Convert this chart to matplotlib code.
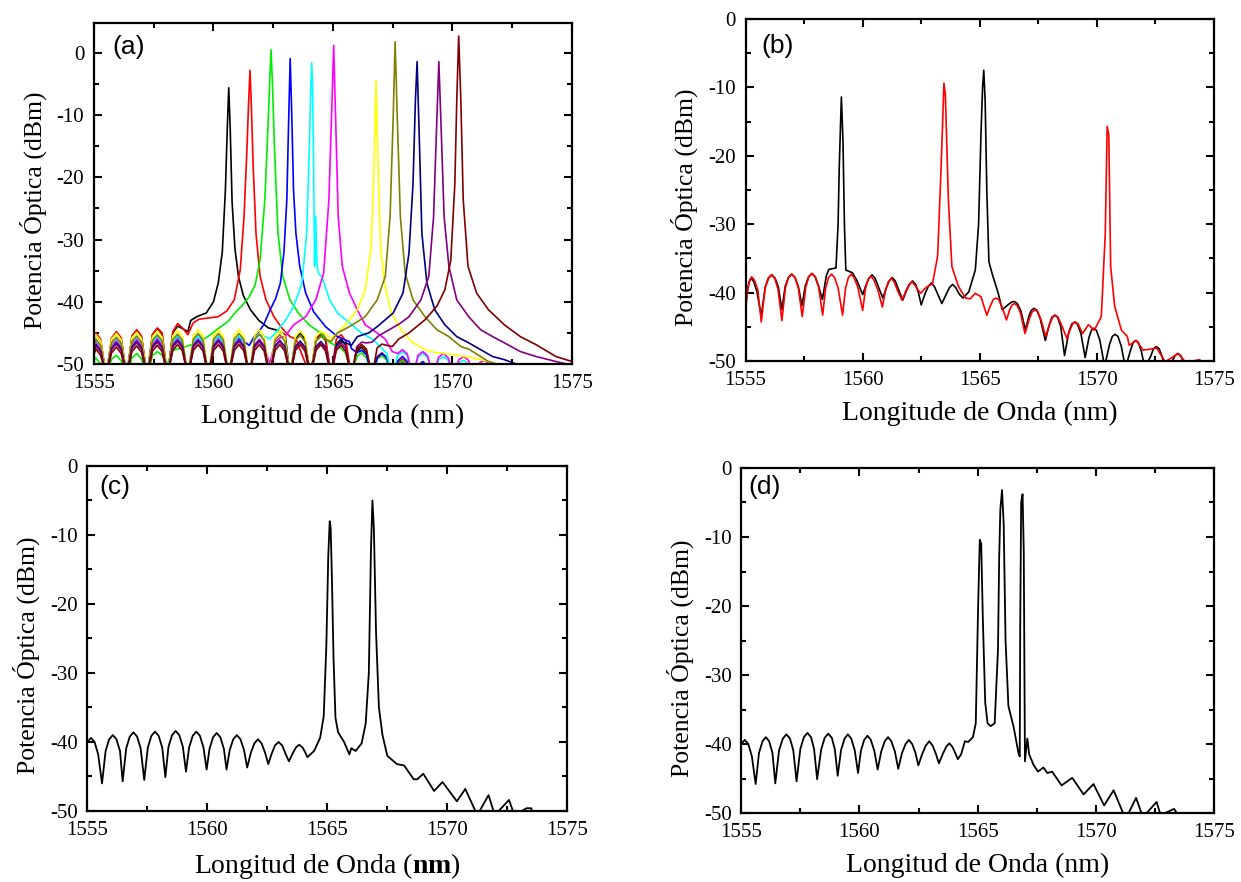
import matplotlib
matplotlib.use('Agg')
import matplotlib.pyplot as plt
from matplotlib.ticker import MultipleLocator

plt.rcParams['font.family'] = 'Liberation Serif'
plt.rcParams['axes.unicode_minus'] = False
plt.rcParams['mathtext.fontset'] = 'custom'
plt.rcParams['mathtext.bf'] = 'Liberation Serif:bold'

# ---------------- panel (a): 11 espectros (colores de Origin) ----------------
# rejilla de longitudes de onda del rizado (valle, hombro, pico, hombro ...)
a_grid = [1555.0, 1555.08, 1555.28, 1555.51, 1555.74, 1555.94, 1556.14, 1556.37,
          1556.59, 1556.79, 1556.99, 1557.22, 1557.45, 1557.65, 1557.85, 1558.08,
          1558.3, 1558.5, 1558.7, 1558.93, 1559.16, 1559.36, 1559.56, 1559.79,
          1560.01, 1560.21, 1560.41, 1560.64, 1560.87, 1561.07, 1561.27, 1561.5,
          1561.72, 1561.92, 1562.12, 1562.35, 1562.58, 1562.78, 1562.98, 1563.21,
          1563.43, 1563.63, 1563.83, 1564.06, 1564.29, 1564.49, 1564.69, 1564.92,
          1565.14, 1565.34, 1565.54, 1565.77, 1566.0, 1566.2, 1566.4, 1566.63,
          1566.85, 1567.05, 1567.25, 1567.48, 1567.71, 1567.91, 1568.11, 1568.34,
          1568.56, 1568.76, 1568.96, 1569.19, 1569.42, 1569.62, 1569.82, 1570.05,
          1570.27, 1570.47, 1570.67, 1570.9, 1571.13, 1571.33, 1571.53, 1571.76,
          1571.98, 1572.18, 1572.38, 1572.61]

a_colors = ['#000000', '#ff0000', '#00ee00', '#0000ff', '#00ffff', '#ff00ff',
            '#ffff00', '#808000', '#000080', '#800080', '#800000']

black_left = [-46.0, -45.3, -46.3, -52, -46.0, -45.0, -46.0, -52, -45.6, -44.6, -45.6, -52,
              -45.3, -44.3, -45.2, -52, -45.0, -43.9, -44.3, -44.8]
black_wx = [1559.05, 1559.3, 1559.7, 1560.0, 1560.2, 1560.37, 1560.5, 1560.58, 1560.64, 1560.7,
            1560.78, 1560.9, 1561.05, 1561.25, 1561.55, 1561.9, 1562.3, 1562.7, 1563.0]
black_wy = [-43.0, -42.4, -41.8, -40.0, -37.0, -32.0, -22.0, -12.0, -5.6, -12.0,
            -24.0, -31.5, -36.0, -39.0, -41.3, -43.0, -44.2, -44.6, -45.3]
black_tail = [-52, -46.0, -45.0, -46.0, -52, -46.0, -45.2, -46.2, -52, -46.8, -46.0, -47.0,
              -52, -48.0, -47.3, -48.2, -52, -49.2, -48.5, -49.3, -52, -50.5, -49.8, -50.5, -52]

red_left = [-46.2, -45.0, -46.0, -52, -45.8, -44.8, -45.8, -52, -45.5, -44.5, -45.5, -52,
            -45.2, -44.2, -45.0, -52, -44.8, -43.5, -44.2, -45.3]
red_wx = [1559.15, 1559.4, 1559.8, 1560.2, 1560.55, 1560.87, 1561.12, 1561.28, 1561.4, 1561.47,
          1561.53, 1561.59, 1561.66, 1561.78, 1561.95, 1562.2, 1562.53, 1562.86, 1563.2, 1563.45]
red_wy = [-43.4, -42.8, -42.6, -42.4, -41.5, -39.7, -34.9, -26.3, -15.6, -8.0,
          -2.8, -9.0, -18.0, -29.0, -35.9, -39.7, -42.4, -44.2, -45.6, -46.0]
red_tail = [-52, -45.8, -44.9, -45.8, -52, -46.0, -45.3, -46.3, -52, -47.6, -46.9, -47.8,
            -52, -48.8, -48.2, -49.0, -52, -49.8, -49.2, -50.0, -52]

green_left = [-49.5, -49.0, -50.0, -52, -49.2, -48.6, -49.5, -52, -49.0, -48.3, -49.2, -52,
              -48.6, -48.0, -48.6, -50.0]
green_wx = [1558.3, 1558.6, 1559.0, 1559.4, 1559.8, 1560.2, 1560.6, 1560.9, 1561.2, 1561.5,
            1561.75, 1561.95, 1562.15, 1562.28, 1562.36, 1562.41, 1562.47, 1562.55, 1562.7,
            1562.9, 1563.2, 1563.55, 1564.0, 1564.4, 1564.85]
green_wy = [-47.8, -47.5, -47.0, -46.5, -45.5, -44.3, -43.2, -41.8, -40.6, -39.2,
            -37.2, -33.3, -23.6, -12.0, -4.0, 0.5, -5.0, -15.0, -29.0,
            -35.9, -39.7, -41.8, -43.7, -44.8, -46.5]
green_tail = [-47.5, -48.3, -52, -48.8, -48.2, -49.0, -52, -49.2, -48.6, -49.4, -52,
              -50.0, -49.5, -50.2, -52]

blue_left = [-47.5, -46.6, -47.6, -52, -47.2, -46.3, -47.3, -52, -47.0, -46.0, -47.0, -52,
             -46.8, -45.8, -46.8, -52, -46.6, -45.6, -46.6, -52, -46.5, -45.5, -46.5, -52,
             -46.5, -45.6, -46.5, -52, -46.6, -45.8, -46.4, -47.0]
blue_wx = [1561.7, 1561.9, 1562.1, 1562.37, 1562.6, 1562.8, 1562.95, 1563.07, 1563.15, 1563.21,
           1563.27, 1563.35, 1563.45, 1563.61, 1563.86, 1564.19, 1564.69, 1565.19, 1565.69]
blue_wy = [-45.6, -44.8, -43.7, -41.3, -39.5, -37.0, -32.0, -23.6, -10.3, -0.9,
           -9.0, -22.0, -29.0, -34.3, -38.6, -41.6, -44.0, -45.6, -46.4]
blue_tail = [-47.5, -48.2, -47.8, -48.5, -52, -49.0, -48.3, -49.0, -52, -49.5, -48.8, -49.6,
             -52, -50.2, -49.6, -50.3, -52]

cyan_left = [-47.0, -46.3, -47.3, -52, -47.0, -46.0, -47.0, -52, -46.8, -45.8, -46.8, -52,
             -46.6, -45.6, -46.6, -52, -46.5, -45.5, -46.5, -52, -46.5, -45.5, -46.5, -52,
             -46.5, -45.5, -46.5, -52, -46.5, -45.5, -46.5, -52, -46.2, -45.3, -45.5, -46.0]
cyan_wx = [1562.7, 1563.03, 1563.36, 1563.7, 1563.9, 1564.01, 1564.07, 1564.11, 1564.15, 1564.19,
           1564.23, 1564.28, 1564.33, 1564.4, 1564.53, 1564.86, 1565.19, 1565.69, 1566.19, 1566.69]
cyan_wy = [-44.5, -42.9, -40.7, -37.0, -29.0, -15.6, -6.0, -1.6, -6.0, -18.0,
           -34.3, -26.3, -34.0, -35.5, -35.9, -39.7, -41.8, -43.4, -45.0, -46.1]
cyan_tail = [-47.5, -48.3, -52, -48.6, -48.0, -48.7, -52, -48.9, -48.3, -49.0, -52,
             -49.3, -48.8, -49.4, -52, -49.8, -49.4, -50.0, -52]

magenta_left = [-47.3, -46.6, -47.6, -52, -47.2, -46.3, -47.3, -52, -47.0, -46.1, -47.1, -52,
                -46.9, -46.0, -47.0, -52, -46.9, -46.0, -47.0, -52, -46.9, -46.0, -47.0, -52,
                -46.9, -46.0, -47.0, -52, -46.9, -46.0, -47.0, -52, -46.9, -46.0, -47.0, -50.0]
magenta_wx = [1562.58, 1562.78, 1563.0, 1563.36, 1563.86, 1564.28, 1564.61, 1564.83, 1564.94,
              1565.03, 1565.11, 1565.22, 1565.39, 1565.69, 1566.02, 1566.35, 1566.85, 1567.19]
magenta_wy = [-46.5, -45.8, -45.5, -43.7, -42.4, -39.7, -35.4, -23.6, -10.3,
              1.2, -10.3, -26.3, -34.3, -38.6, -41.3, -43.7, -45.0, -46.0]
magenta_tail = [-48.0, -48.3, -47.7, -48.4, -52, -48.6, -48.0, -48.7, -52, -48.9, -48.3, -49.0,
                -52, -49.3, -48.8, -49.4, -52, -49.8, -49.4, -50.0, -52]

yellow_left = [-46.3, -45.3, -46.3, -52, -46.0, -45.1, -46.1, -52, -45.8, -44.9, -45.9, -52,
               -45.6, -44.7, -45.7, -52, -45.5, -44.6, -45.6, -52, -45.4, -44.5, -45.5, -52,
               -45.4, -44.5, -45.5, -52, -45.4, -44.5, -45.5, -52, -45.4, -44.5, -45.5, -52,
               -45.5, -44.6, -45.6, -52, -45.6, -44.7, -45.6, -52, -45.6, -44.8, -45.2, -46.0]
yellow_wx = [1565.2, 1565.52, 1566.02, 1566.35, 1566.6, 1566.72, 1566.8, 1566.89, 1566.99, 1567.15,
             1567.44, 1567.85, 1568.35, 1568.85, 1569.35, 1569.85, 1570.35, 1570.85, 1571.3,
             1571.9, 1572.4]
yellow_wy = [-45.0, -43.7, -41.3, -38.1, -31.1, -18.3, -4.4, -18.3, -31.1, -37.0,
             -41.8, -44.5, -46.6, -47.7, -48.2, -48.4, -48.7, -49.0, -49.4, -50.0, -50.6]

olive_left = [-47.0, -46.0, -47.0, -52, -46.6, -45.7, -46.7, -52, -46.4, -45.5, -46.5, -52,
              -46.2, -45.3, -46.3, -52, -46.1, -45.2, -46.2, -52, -46.0, -45.1, -46.1, -52,
              -46.0, -45.1, -46.1, -52, -46.0, -45.1, -46.1, -52, -46.0, -45.2, -46.2, -52,
              -46.1, -45.3, -46.3, -52, -46.2, -45.4, -46.4, -52, -46.3, -45.6, -46.0, -46.4]
olive_wx = [1565.19, 1565.69, 1566.35, 1566.85, 1567.19, 1567.39, 1567.52, 1567.6, 1567.69, 1567.82,
            1568.02, 1568.35, 1568.85, 1569.35, 1569.85, 1570.35, 1570.68, 1571.01, 1571.51,
            1572.0, 1572.4]
olive_wy = [-45.0, -44.0, -42.4, -39.7, -35.9, -26.3, -10.3, 1.8, -10.3, -26.3,
            -35.4, -39.7, -42.4, -44.5, -45.6, -47.2, -47.6, -48.4, -49.6, -50.2, -50.8]

navy_left = [-47.8, -46.9, -47.9, -52, -47.5, -46.6, -47.6, -52, -47.3, -46.4, -47.4, -52,
             -47.2, -46.3, -47.3, -52, -47.1, -46.2, -47.2, -52, -47.1, -46.2, -47.2, -52,
             -47.1, -46.2, -47.2, -52, -47.1, -46.2, -47.2, -52, -47.1, -46.2, -47.2, -52,
             -47.1, -46.2, -47.2, -52, -47.2, -46.3, -47.3, -52, -47.2, -46.4, -47.3, -52,
             -47.0, -46.4, -46.6, -47.0]
navy_wx = [1566.02, 1566.5, 1566.85, 1567.52, 1567.93, 1568.18, 1568.35, 1568.45, 1568.52, 1568.6,
           1568.72, 1568.93, 1569.26, 1569.68, 1570.18, 1570.68, 1571.18, 1571.68, 1572.17,
           1572.67, 1573.0]
navy_wy = [-45.6, -45.0, -44.0, -41.8, -38.6, -32.2, -21.0, -7.6, -1.4, -12.0,
           -29.0, -37.0, -41.3, -43.7, -45.6, -46.6, -47.7, -48.8, -49.3, -50.0, -50.6]

purple_left = [-48.0, -47.1, -48.1, -52, -47.7, -46.8, -47.8, -52, -47.5, -46.6, -47.6, -52,
               -47.4, -46.5, -47.5, -52, -47.3, -46.4, -47.4, -52, -47.3, -46.4, -47.4, -52,
               -47.3, -46.4, -47.4, -52, -47.3, -46.4, -47.4, -52, -47.3, -46.4, -47.4, -52,
               -47.3, -46.4, -47.4, -52, -47.4, -46.5, -47.5, -52, -47.4, -46.6, -47.5, -52,
               -47.4, -46.6, -47.5, -52, -47.2, -46.5, -46.6, -46.5]
purple_wx = [1566.9, 1567.35, 1567.8, 1568.18, 1568.68, 1569.01, 1569.21, 1569.35, 1569.43, 1569.51,
             1569.65, 1569.85, 1570.18, 1570.68, 1571.18, 1571.68, 1572.17, 1572.84, 1573.5,
             1574.33, 1575.0]
purple_wy = [-45.5, -44.5, -43.5, -42.4, -39.7, -35.9, -26.3, -10.3, -1.4, -10.3,
             -26.3, -34.3, -39.7, -42.4, -44.5, -45.6, -46.6, -48.0, -48.8, -49.6, -50.2]

maroon_left = [-48.5, -47.6, -48.6, -52, -48.2, -47.3, -48.3, -52, -48.0, -47.1, -48.1, -52,
               -47.9, -47.0, -48.0, -52, -47.8, -46.9, -47.9, -52, -47.8, -46.9, -47.9, -52,
               -47.8, -46.9, -47.9, -52, -47.8, -46.9, -47.9, -52, -47.8, -46.9, -47.9, -52,
               -47.8, -46.9, -47.9, -52, -47.8, -46.9, -47.9, -52, -47.8, -46.9, -47.9, -52,
               -47.8, -47.0, -48.0, -52, -47.6, -46.9, -47.6, -52, -47.4, -46.8, -47.0, -47.2]
maroon_wx = [1567.75, 1568.18, 1568.85, 1569.35, 1569.68, 1569.93, 1570.1, 1570.18, 1570.26, 1570.35,
             1570.45, 1570.65, 1571.01, 1571.51, 1572.17, 1572.84, 1573.5, 1574.33, 1575.0]
maroon_wy = [-46.0, -45.0, -42.9, -40.7, -38.1, -33.3, -21.0, -7.6, 2.7, -7.6,
             -23.6, -34.3, -38.6, -41.3, -43.7, -45.6, -46.9, -48.8, -49.6]

# (curva izquierda, ala x, ala y, indice de inicio de la cola, cola)
a_curves = [
    (black_left, black_wx, black_wy, 39, black_tail),
    (red_left, red_wx, red_wy, 43, red_tail),
    (green_left, green_wx, green_wy, 49, green_tail),
    (blue_left, blue_wx, blue_wy, 51, blue_tail),
    (cyan_left, cyan_wx, cyan_wy, 57, cyan_tail),
    (magenta_left, magenta_wx, magenta_wy, 59, magenta_tail),
    (yellow_left, yellow_wx, yellow_wy, 0, []),
    (olive_left, olive_wx, olive_wy, 0, []),
    (navy_left, navy_wx, navy_wy, 0, []),
    (purple_left, purple_wx, purple_wy, 0, []),
    (maroon_left, maroon_wx, maroon_wy, 0, []),
]

# ---------------- panel (b) ----------------
b_black_x = [1555.0, 1555.08, 1555.15, 1555.23, 1555.35, 1555.48, 1555.67,
             1555.84, 1555.98, 1556.12, 1556.26, 1556.4, 1556.55,
             1556.69, 1556.83, 1556.97, 1557.11, 1557.25, 1557.41,
             1557.55, 1557.69, 1557.83, 1557.97, 1558.11, 1558.28,
             1558.45, 1558.56, 1558.86, 1558.95, 1559.0, 1559.09, 1559.16, 1559.22, 1559.28,
             1559.56, 1559.75, 1560.0,
             1560.14, 1560.27, 1560.4, 1560.53, 1560.68, 1560.86,
             1561.0, 1561.13, 1561.26, 1561.39, 1561.54, 1561.71,
             1561.86, 1562.0, 1562.13, 1562.26, 1562.38, 1562.5,
             1562.66, 1562.8, 1562.93, 1563.06, 1563.2, 1563.38,
             1563.56, 1563.7, 1563.84, 1563.98, 1564.12, 1564.28,
             1564.53, 1564.81, 1564.95, 1565.05, 1565.12, 1565.17, 1565.23, 1565.3, 1565.39,
             1565.55, 1565.78, 1565.96, 1566.2, 1566.35, 1566.47, 1566.6, 1566.75, 1566.95,
             1567.1, 1567.2, 1567.32, 1567.44, 1567.58, 1567.8,
             1567.96, 1568.08, 1568.2, 1568.32, 1568.46, 1568.62,
             1568.8, 1568.93, 1569.05, 1569.17, 1569.32, 1569.5,
             1569.66, 1569.77, 1569.87, 1569.98, 1570.13, 1570.33,
             1570.54, 1570.66, 1570.78, 1570.9, 1571.04, 1571.22,
             1571.44, 1571.55, 1571.66, 1571.77, 1571.9, 1572.05,
             1572.3, 1572.42, 1572.54, 1572.66, 1572.78, 1572.92,
             1573.22, 1573.34, 1573.46, 1573.58, 1573.68, 1573.8,
             1574.1, 1574.4, 1574.5]
b_black_y = [-41.6, -39.6, -38.4, -37.9, -38.4, -39.8, -43.4,
             -39.2, -37.9, -37.4, -37.9, -39.2, -42.5,
             -39.1, -37.8, -37.3, -37.8, -39.1, -41.9,
             -39.0, -37.7, -37.2, -37.7, -39.0, -41.0,
             -37.5, -36.6, -36.4, -30.0, -21.6, -11.4, -18.0, -30.0, -36.7,
             -37.1, -38.2, -40.3,
             -38.9, -37.9, -37.4, -37.9, -39.2, -40.8,
             -39.4, -38.3, -37.8, -38.3, -39.6, -41.1,
             -39.8, -38.8, -38.3, -38.8, -40.0, -41.8,
             -40.2, -39.1, -38.6, -39.1, -40.2, -41.6,
             -40.3, -39.3, -38.8, -39.3, -40.2, -40.8,
             -39.9, -36.7, -30.0, -17.0, -10.0, -7.5, -12.0, -25.0, -35.5,
             -37.5, -40.0, -42.5, -41.8, -41.4, -41.3, -41.6, -42.6, -45.5,
             -43.4, -42.6, -42.3, -42.6, -43.8, -47.0,
             -44.8, -43.6, -43.3, -43.6, -45.0, -49.2,
             -45.8, -44.6, -44.3, -44.6, -46.0, -49.5,
             -46.6, -45.5, -45.2, -45.5, -47.0, -50.8,
             -47.6, -46.4, -46.1, -46.4, -47.8, -51.0,
             -48.4, -47.3, -47.0, -47.3, -48.6, -51.0,
             -49.3, -48.2, -47.9, -48.2, -49.3, -51.0,
             -50.0, -49.2, -48.9, -49.2, -50.0, -51.0,
             -50.2, -49.9, -50.5]

b_red_x = [1555.0, 1555.1, 1555.18, 1555.26, 1555.38, 1555.52, 1555.67,
           1555.83, 1555.96, 1556.1, 1556.24, 1556.38, 1556.55,
           1556.7, 1556.83, 1556.97, 1557.11, 1557.25, 1557.42,
           1557.57, 1557.7, 1557.84, 1557.98, 1558.12, 1558.29,
           1558.42, 1558.54, 1558.67, 1558.8, 1558.95, 1559.14,
           1559.27, 1559.39, 1559.51, 1559.63, 1559.8, 1560.0,
           1560.12, 1560.23, 1560.35, 1560.47, 1560.64, 1560.84,
           1560.98, 1561.1, 1561.22, 1561.34, 1561.5, 1561.68,
           1561.84, 1561.97, 1562.1, 1562.23, 1562.36, 1562.48,
           1562.6, 1562.73, 1562.98, 1563.2, 1563.35, 1563.47, 1563.53, 1563.66, 1563.81,
           1564.09, 1564.39, 1564.6, 1564.8, 1565.05, 1565.3,
           1565.47, 1565.58, 1565.69, 1565.8, 1565.94, 1566.14,
           1566.28, 1566.38, 1566.48, 1566.6, 1566.74, 1566.93,
           1567.12, 1567.24, 1567.36, 1567.48, 1567.62, 1567.81,
           1568.0, 1568.11, 1568.22, 1568.34, 1568.5, 1568.72,
           1568.88, 1568.98, 1569.09, 1569.2, 1569.39,
           1569.64, 1569.89, 1570.19, 1570.36, 1570.44, 1570.51, 1570.59, 1570.76,
           1571.05, 1571.3, 1571.38, 1571.69, 1571.97, 1572.22, 1572.55, 1572.92, 1573.2,
           1573.47, 1573.8, 1574.1, 1574.39, 1574.45]
b_red_y = [-42.5, -39.4, -38.2, -37.7, -38.2, -39.6, -44.3,
           -39.4, -37.9, -37.4, -37.9, -39.4, -44.1,
           -39.3, -37.8, -37.3, -37.8, -39.3, -43.5,
           -39.2, -37.7, -37.2, -37.7, -39.2, -43.3,
           -39.3, -37.8, -37.3, -37.8, -39.3, -43.3,
           -39.3, -37.8, -37.3, -37.8, -39.3, -42.6,
           -39.4, -38.1, -37.6, -38.1, -39.5, -42.1,
           -39.6, -38.4, -37.9, -38.4, -39.8, -41.1,
           -39.8, -38.9, -38.4, -38.9, -39.6, -40.1,
           -39.6, -39.2, -38.7, -34.7, -21.6, -9.4, -11.0, -26.5, -36.2,
           -39.1, -40.8, -40.9, -40.1, -40.6, -43.3,
           -41.8, -41.0, -40.8, -41.0, -42.0, -44.0,
           -42.5, -41.8, -41.6, -41.9, -43.0, -46.0,
           -43.8, -42.8, -42.5, -42.8, -44.0, -46.4,
           -44.5, -43.6, -43.3, -43.6, -44.8, -46.7,
           -45.2, -44.5, -44.3, -44.6, -46.0,
           -44.7, -45.5, -43.5, -31.3, -15.7, -17.0, -36.2, -42.0,
           -45.5, -46.4, -47.7, -47.0, -48.4, -48.3, -48.1, -50.1, -49.5,
           -48.9, -50.2, -50.0, -49.8, -50.3]

# ---------------- panel (c) ----------------
c_x = [1555.0, 1555.15, 1555.3, 1555.45, 1555.61,
       1555.76, 1555.91, 1556.06, 1556.21, 1556.36, 1556.47,
       1556.62, 1556.77, 1556.92, 1557.07, 1557.22, 1557.37,
       1557.52, 1557.67, 1557.82, 1557.97, 1558.12, 1558.25,
       1558.38, 1558.53, 1558.68, 1558.83, 1558.98, 1559.11,
       1559.24, 1559.39, 1559.54, 1559.69, 1559.84, 1559.97,
       1560.09, 1560.24, 1560.39, 1560.54, 1560.69, 1560.8,
       1560.93, 1561.08, 1561.23, 1561.38, 1561.53, 1561.66,
       1561.81, 1561.96, 1562.11, 1562.26, 1562.41, 1562.54,
       1562.67, 1562.82, 1562.97, 1563.12, 1563.27, 1563.4,
       1563.55, 1563.69, 1563.83, 1563.97, 1564.08, 1564.17,
       1564.45, 1564.7, 1564.85, 1564.96, 1565.04,
       1565.1, 1565.14, 1565.19, 1565.26, 1565.34, 1565.45, 1565.7, 1565.92, 1566.0,
       1566.18, 1566.43, 1566.6, 1566.73, 1566.82, 1566.88, 1566.94, 1567.03, 1567.15,
       1567.3, 1567.5, 1567.9, 1568.2, 1568.6, 1568.75, 1569.0, 1569.45, 1569.8,
       1570.4, 1570.75, 1571.25, 1571.72, 1571.98, 1572.57, 1572.8, 1573.3, 1573.5, 1573.55]
c_y = [-40.0, -39.4, -40.0, -41.8, -46.0,
       -41.3, -39.6, -39.0, -39.6, -41.3, -45.7,
       -40.9, -39.2, -38.6, -39.2, -40.9, -45.5,
       -40.8, -39.1, -38.5, -39.1, -40.8, -45.1,
       -40.7, -39.0, -38.4, -39.0, -40.7, -44.3,
       -40.8, -39.1, -38.5, -39.1, -40.8, -44.0,
       -41.0, -39.3, -38.7, -39.3, -41.0, -44.0,
       -41.2, -39.6, -39.0, -39.6, -41.2, -43.7,
       -41.6, -40.2, -39.6, -40.2, -41.6, -43.2,
       -41.8, -40.5, -40.0, -40.5, -41.8, -42.8,
       -41.7, -40.8, -40.4, -40.8, -41.5, -42.2,
       -41.3, -39.4, -36.3, -26.0, -13.0,
       -8.0, -9.0, -16.0, -28.0, -36.5, -38.6, -40.0, -41.8, -40.9,
       -41.3, -40.2, -37.3, -30.0, -12.0, -5.0, -9.0, -24.0, -35.0,
       -39.0, -42.0, -43.2, -43.4, -45.4, -45.4, -44.6, -47.1, -45.8,
       -48.6, -46.8, -50.6, -47.7, -50.6, -48.4, -50.6, -49.6, -49.6, -50.3]

# ---------------- panel (d) ----------------
d_x = [1555.0, 1555.15, 1555.3, 1555.45, 1555.61,
       1555.75, 1555.9, 1556.04, 1556.18, 1556.32, 1556.44,
       1556.6, 1556.76, 1556.91, 1557.06, 1557.2, 1557.34,
       1557.5, 1557.65, 1557.8, 1557.95, 1558.08, 1558.21,
       1558.38, 1558.53, 1558.68, 1558.83, 1558.96, 1559.08,
       1559.22, 1559.37, 1559.51, 1559.65, 1559.8, 1559.94,
       1560.06, 1560.2, 1560.34, 1560.48, 1560.63, 1560.77,
       1560.92, 1561.07, 1561.21, 1561.35, 1561.5, 1561.64,
       1561.8, 1561.95, 1562.09, 1562.23, 1562.37, 1562.49,
       1562.66, 1562.81, 1562.95, 1563.09, 1563.23, 1563.36,
       1563.53, 1563.67, 1563.8, 1563.93, 1564.05, 1564.16,
       1564.3, 1564.46, 1564.6, 1564.8, 1564.92,
       1565.02, 1565.09, 1565.15, 1565.22, 1565.32, 1565.42, 1565.55, 1565.72, 1565.86,
       1565.91, 1565.96, 1566.03, 1566.1, 1566.18, 1566.3, 1566.52, 1566.72, 1566.78,
       1566.8, 1566.84, 1566.9, 1566.95, 1567.0, 1567.1, 1567.18, 1567.36, 1567.55,
       1567.78, 1567.95, 1568.15, 1568.55, 1569.0, 1569.48, 1569.9, 1570.35, 1570.75,
       1571.15, 1571.3, 1571.7, 1571.99, 1572.57, 1572.74, 1573.31, 1573.48]
d_y = [-40.0, -39.4, -40.0, -41.8, -45.8,
       -41.3, -39.6, -39.0, -39.6, -41.3, -45.7,
       -40.9, -39.2, -38.6, -39.2, -40.9, -45.4,
       -40.7, -39.0, -38.4, -39.0, -40.7, -45.1,
       -40.8, -39.1, -38.5, -39.1, -40.8, -44.6,
       -40.9, -39.2, -38.6, -39.2, -40.9, -44.2,
       -41.0, -39.4, -38.8, -39.4, -41.0, -43.7,
       -41.1, -39.6, -39.0, -39.6, -41.1, -43.6,
       -41.3, -40.0, -39.4, -40.0, -41.3, -43.1,
       -41.4, -40.2, -39.6, -40.2, -41.4, -42.8,
       -41.4, -40.4, -39.9, -40.4, -41.3, -42.2,
       -41.5, -39.6, -39.7, -39.0, -37.0,
       -20.0, -10.4, -11.0, -22.0, -34.0, -37.0, -37.4, -37.0, -26.3,
       -13.0, -6.0, -3.2, -8.0, -25.0, -34.5, -37.5, -41.2, -41.8,
       -23.0, -5.0, -3.8, -12.0, -42.5, -39.2, -41.5, -43.0, -44.0,
       -43.4, -44.2, -44.0, -46.0, -44.9, -47.3, -45.8, -48.9, -46.7,
       -50.0, -50.6, -47.8, -50.6, -48.4, -50.3, -49.4, -50.3]


def style_axes(ax, top, xlabel, tag):
    ax.set_xlim(1555, 1575)
    ax.set_ylim(-50, top)
    ax.xaxis.set_major_locator(MultipleLocator(5))
    ax.xaxis.set_minor_locator(MultipleLocator(2.5))
    ax.yaxis.set_major_locator(MultipleLocator(10))
    ax.yaxis.set_minor_locator(MultipleLocator(5))
    ax.tick_params(which='both', direction='in', top=True, right=True, width=1.5,
                   labelsize=15, pad=7)
    ax.tick_params(which='major', length=6)
    ax.tick_params(which='minor', length=3.5)
    for s in ax.spines.values():
        s.set_linewidth(1.6)
    ax.set_xlabel(xlabel, fontsize=20, labelpad=8)
    ax.set_ylabel('Potencia Óptica (dBm)', fontsize=18.5, labelpad=7, y=0.45)
    ax.text(tag[1], tag[2], tag[0], transform=ax.transAxes, family='Liberation Sans',
            fontsize=19, va='center', ha='left')


fig = plt.figure(figsize=(12.41, 8.82), dpi=100)
ax_a = fig.add_axes([0.0757, 0.5873, 0.3852, 0.3866])
ax_b = fig.add_axes([0.6008, 0.5907, 0.3774, 0.3878])
ax_c = fig.add_axes([0.0704, 0.0805, 0.3867, 0.3912])
ax_d = fig.add_axes([0.5973, 0.0782, 0.3810, 0.3912])

for (left, wx, wy, ti, tail), col in zip(a_curves, a_colors):
    xs = a_grid[:len(left)] + wx + a_grid[ti:ti + len(tail)]
    ys = left + wy + tail
    ax_a.plot(xs, ys, color=col, lw=1.2)
style_axes(ax_a, 4.8, 'Longitud de Onda (nm)', ('(a)', 0.038, 0.93))

ax_b.plot(b_black_x, b_black_y, color='black', lw=1.2)
ax_b.plot(b_red_x, b_red_y, color='#ff0000', lw=1.2)
style_axes(ax_b, 0, 'Longitude de Onda (nm)', ('(b)', 0.034, 0.92))

ax_c.plot(c_x, c_y, color='black', lw=1.3)
style_axes(ax_c, 0, r'Longitud de Onda ($\mathbf{nm}$)', ('(c)', 0.026, 0.94))

ax_d.plot(d_x, d_y, color='black', lw=1.3)
style_axes(ax_d, 0, 'Longitud de Onda (nm)', ('(d)', 0.015, 0.945))

fig.savefig('out.png', dpi=100)
